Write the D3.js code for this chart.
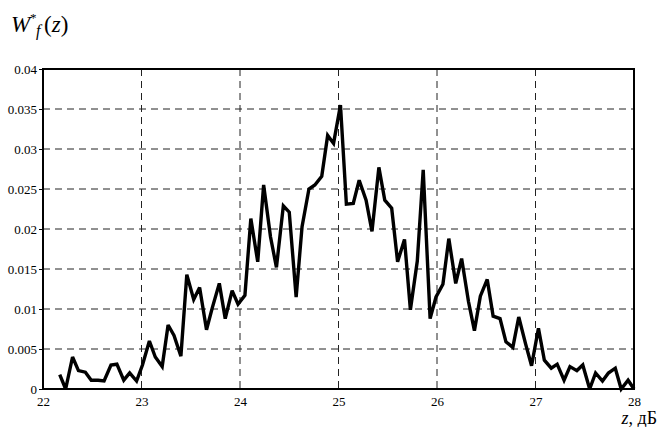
<!DOCTYPE html>
<html>
<head>
<meta charset="utf-8">
<script src="https://cdn.jsdelivr.net/npm/d3@7/dist/d3.min.js"></script>
<style>
  html, body { margin: 0; padding: 0; background: #fff; }
  svg { display: block; }
  svg text { font-family: "Liberation Serif", "Times New Roman", Times, "DejaVu Serif", serif; fill: #000; }
</style>
</head>
<body>
<svg id="chart" width="659" height="427"></svg>
<script>
// Sampling points of the level z, dB
const zValues = [
  22.17, 22.23, 22.30, 22.36, 22.43, 22.49, 22.56, 22.62, 22.69, 22.75,
  22.82, 22.88, 22.95, 23.01, 23.08, 23.14, 23.21, 23.27, 23.33, 23.40,
  23.46, 23.53, 23.59, 23.66, 23.72, 23.79, 23.85, 23.92, 23.98, 24.05,
  24.11, 24.18, 24.24, 24.31, 24.37, 24.44, 24.50, 24.57, 24.63, 24.70,
  24.76, 24.83, 24.89, 24.95, 25.02, 25.08, 25.15, 25.21, 25.28, 25.34,
  25.41, 25.47, 25.54, 25.60, 25.67, 25.73, 25.80, 25.86, 25.93, 25.99,
  26.06, 26.12, 26.19, 26.25, 26.32, 26.38, 26.44, 26.51, 26.57, 26.64,
  26.70, 26.77, 26.83, 26.90, 26.96, 27.03, 27.09, 27.16, 27.22, 27.29,
  27.35, 27.42, 27.48, 27.55, 27.61, 27.68, 27.74, 27.81, 27.87, 27.94,
  28.00
];

// Estimated density W*f(z) at each sampling point
const densityValues = [
  0.0018, 0.0000, 0.0040, 0.0023, 0.0021, 0.0011, 0.0011, 0.0010, 0.0030, 0.0031,
  0.0011, 0.0020, 0.0010, 0.0030, 0.0060, 0.0040, 0.0028, 0.0080, 0.0067, 0.0041,
  0.0143, 0.0112, 0.0127, 0.0074, 0.0102, 0.0132, 0.0088, 0.0123, 0.0106, 0.0117,
  0.0213, 0.0159, 0.0255, 0.0190, 0.0152, 0.0229, 0.0221, 0.0115, 0.0203, 0.0250,
  0.0255, 0.0266, 0.0317, 0.0307, 0.0355, 0.0231, 0.0232, 0.0261, 0.0236, 0.0197,
  0.0277, 0.0236, 0.0226, 0.0159, 0.0187, 0.0099, 0.0160, 0.0274, 0.0088, 0.0115,
  0.0131, 0.0188, 0.0132, 0.0163, 0.0109, 0.0073, 0.0116, 0.0137, 0.0091, 0.0088,
  0.0059, 0.0052, 0.0090, 0.0056, 0.0029, 0.0076, 0.0036, 0.0026, 0.0031, 0.0011,
  0.0028, 0.0023, 0.0030, 0.0000, 0.0020, 0.0010, 0.0020, 0.0026, 0.0000, 0.0011,
  0.0000
];

const xTicks = [22, 23, 24, 25, 26, 27, 28];
const xTickLabels = ["22", "23", "24", "25", "26", "27", "28"];
const yTicks = [0, 0.005, 0.01, 0.015, 0.02, 0.025, 0.03, 0.035, 0.04];
const yTickLabels = ["0", "0.005", "0.01", "0.015", "0.02", "0.025", "0.03", "0.035", "0.04"];

const width = 659, height = 427;
const margin = { top: 69, right: 25, bottom: 38, left: 43 };
const innerW = width - margin.left - margin.right;
const innerH = height - margin.top - margin.bottom;
const serif = "'Liberation Serif', 'Times New Roman', Times, 'DejaVu Serif', serif";

const svg = d3.select("#chart");
const g = svg.append("g").attr("transform", `translate(${margin.left},${margin.top})`);

const x = d3.scaleLinear().domain([22, 28]).range([0, innerW]);
const y = d3.scaleLinear().domain([0, 0.04]).range([innerH, 0]);

// Dashed grid
g.append("g")
  .selectAll("line")
  .data(xTicks.slice(1, -1))
  .join("line")
  .attr("x1", d => x(d)).attr("x2", d => x(d))
  .attr("y1", 0).attr("y2", innerH)
  .attr("stroke", "#222").attr("stroke-width", 1)
  .attr("stroke-dasharray", "7,5");

g.append("g")
  .selectAll("line")
  .data(yTicks.slice(1, -1))
  .join("line")
  .attr("x1", 0).attr("x2", innerW)
  .attr("y1", d => y(d)).attr("y2", d => y(d))
  .attr("stroke", "#222").attr("stroke-width", 1)
  .attr("stroke-dasharray", "7,5");

// Axes
const xAxis = d3.axisBottom(x)
  .tickValues(xTicks)
  .tickFormat((d, i) => xTickLabels[i])
  .tickSize(0)
  .tickPadding(8);
const yAxis = d3.axisLeft(y)
  .tickValues(yTicks)
  .tickFormat((d, i) => yTickLabels[i])
  .tickSize(4)
  .tickPadding(2);

const gx = g.append("g").attr("transform", `translate(0,${innerH})`).call(xAxis);
const gy = g.append("g").call(yAxis);
[gx, gy].forEach(a => {
  a.attr("font-family", serif);
  a.select(".domain").remove();
  a.selectAll("text")
    .style("font-family", serif)
    .attr("font-size", 13)
    .attr("fill", "#000");
  a.selectAll("line").attr("stroke", "#000");
});

// Frame
g.append("rect")
  .attr("x", 0).attr("y", 0)
  .attr("width", innerW).attr("height", innerH)
  .attr("fill", "none")
  .attr("stroke", "#000")
  .attr("stroke-width", 2);

// Density curve
const line = d3.line()
  .x((d, i) => x(zValues[i]))
  .y(d => y(d));

g.append("path")
  .datum(densityValues)
  .attr("d", line)
  .attr("fill", "none")
  .attr("stroke", "#000")
  .attr("stroke-width", 3.4)
  .attr("stroke-linejoin", "miter")
  .attr("stroke-miterlimit", 3);

// Axis titles: W*_f(z)
const title = svg.append("g").style("font-family", serif);
title.append("text").attr("x", 11).attr("y", 32)
  .attr("font-size", 23).attr("font-style", "italic").text("W");
title.append("text").attr("x", 30).attr("y", 22)
  .attr("font-size", 13).text("*");
title.append("text").attr("x", 36).attr("y", 36)
  .attr("font-size", 16).attr("font-style", "italic").text("f");
const tz = title.append("text").attr("x", 44).attr("y", 32).attr("font-size", 23);
tz.append("tspan").text("(");
tz.append("tspan").attr("font-style", "italic").text("z");
tz.append("tspan").text(")");

const xLabel = svg.append("text")
  .attr("x", 657).attr("y", 424)
  .style("font-family", serif)
  .attr("text-anchor", "end")
  .attr("font-size", 18);
xLabel.append("tspan").attr("font-style", "italic").text("z");
xLabel.append("tspan").text(", дБ");
</script>
</body>
</html>
